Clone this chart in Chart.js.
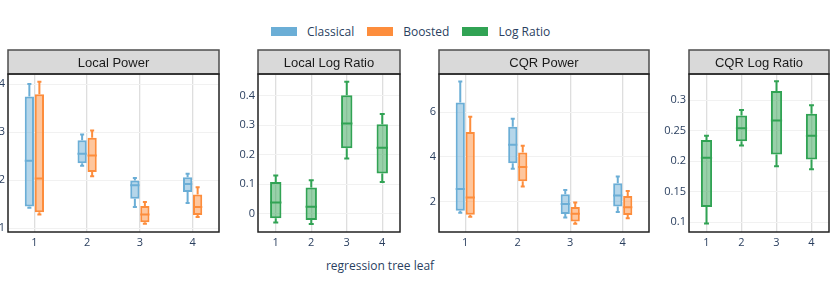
<!DOCTYPE html>
<html>
<head>
<meta charset="utf-8">
<script src="https://cdn.jsdelivr.net/npm/chart.js@4.4.1/dist/chart.umd.min.js"></script>
<style>
  html, body { margin: 0; padding: 0; background: #fff; }
  body { width: 830px; height: 291px; position: relative; overflow: hidden; font-family: "Open Sans", "DejaVu Sans", sans-serif; }
  canvas { position: absolute; }
  .legend { position: absolute; top: 23px; left: 271px; display: flex; align-items: center; color: #2a3f5f; font-size: 12px; }
  .legend .item { display: flex; align-items: center; margin-right: 13px; }
  .legend .sw { width: 26px; height: 9px; margin-right: 10px; }
  .xtitle { position: absolute; top: 257px; left: 280px; width: 200px; text-align: center; color: #2a3f5f; font-size: 12px; }
</style>
</head>
<body>
<div class="legend">
  <div class="item"><span class="sw" style="background:#6baed6"></span><span>Classical</span></div>
  <div class="item"><span class="sw" style="background:#fd8d3c"></span><span>Boosted</span></div>
  <div class="item"><span class="sw" style="background:#31a354"></span><span>Log Ratio</span></div>
</div>
<div class="xtitle">regression tree leaf</div>
<canvas id="p1" width="222" height="210" style="left:0px;top:48px"></canvas>
<canvas id="p2" width="175" height="210" style="left:228px;top:48px"></canvas>
<canvas id="p3" width="222" height="210" style="left:430px;top:48px"></canvas>
<canvas id="p4" width="175" height="210" style="left:655px;top:48px"></canvas>
<script>
// ---- data: each box is [lower whisker, Q1, median, Q3, upper whisker] ----
const leaves = ['1', '2', '3', '4'];

const localPowerClassical = [[1.42, 1.45, 2.40, 3.74, 4.00], [2.30, 2.35, 2.55, 2.83, 2.95], [1.44, 1.61, 1.89, 1.99, 2.04], [1.52, 1.75, 1.92, 2.06, 2.13]];
const localPowerBoosted   = [[1.28, 1.33, 2.03, 3.79, 4.05], [2.08, 2.17, 2.51, 2.88, 3.03], [1.09, 1.12, 1.28, 1.46, 1.54], [1.23, 1.27, 1.44, 1.70, 1.85]];
const localLogRatio       = [[-0.031, -0.016, 0.037, 0.107, 0.129], [-0.036, -0.022, 0.023, 0.088, 0.113], [0.187, 0.222, 0.306, 0.402, 0.448], [0.107, 0.136, 0.223, 0.303, 0.338]];
const cqrPowerClassical   = [[1.51, 1.60, 2.57, 6.43, 7.37], [3.47, 3.72, 4.54, 5.35, 5.70], [1.29, 1.45, 1.90, 2.33, 2.52], [1.54, 1.78, 2.28, 2.82, 3.12]];
const cqrPowerBoosted     = [[1.33, 1.42, 2.19, 5.11, 5.79], [2.68, 2.91, 3.55, 4.20, 4.50], [1.02, 1.12, 1.46, 1.76, 1.96], [1.26, 1.41, 1.75, 2.25, 2.48]];
const cqrLogRatio         = [[0.098, 0.125, 0.206, 0.235, 0.242], [0.226, 0.233, 0.254, 0.275, 0.284], [0.192, 0.211, 0.267, 0.315, 0.331], [0.187, 0.203, 0.242, 0.278, 0.292]];

const localPowerTicks = [1, 2, 3, 4];
const localLogRatioTicks = [0, 0.1, 0.2, 0.3, 0.4];
const cqrPowerTicks = [2, 4, 6];
const cqrLogRatioTicks = [0.1, 0.15, 0.2, 0.25, 0.3];

const localPowerRange = [0.917, 4.21];
const localLogRatioRange = [-0.063, 0.474];
const cqrPowerRange = [0.647, 7.70];
const cqrLogRatioRange = [0.0842, 0.343];

const seriesNames = ['Classical', 'Boosted', 'Log Ratio'];
const panelTitles = ['Local Power', 'Local Log Ratio', 'CQR Power', 'CQR Log Ratio'];

// ---- styling ----
const COLORS = {
  'Classical': ['#6baed6', 'rgba(107,174,214,0.5)'],
  'Boosted': ['#fd8d3c', 'rgba(253,141,60,0.5)'],
  'Log Ratio': ['#31a354', 'rgba(49,163,84,0.5)']
};
const TICK_COLOR = '#2a3f5f';
const STRIP_H = 24;

const boxPlugin = {
  id: 'boxWhiskers',
  afterDatasetsDraw(chart) {
    const ctx = chart.ctx, y = chart.scales.y;
    ctx.save();
    chart.data.datasets.forEach((ds, di) => {
      const meta = chart.getDatasetMeta(di);
      meta.data.forEach((bar, i) => {
        const s = ds.stats[i];
        const x = bar.x, w = bar.width;
        ctx.strokeStyle = ds.borderColor;
        ctx.lineWidth = 2;
        ctx.beginPath();
        // median
        ctx.moveTo(x - w / 2, y.getPixelForValue(s[2]));
        ctx.lineTo(x + w / 2, y.getPixelForValue(s[2]));
        // whiskers
        ctx.moveTo(x, y.getPixelForValue(s[1]));
        ctx.lineTo(x, y.getPixelForValue(s[0]));
        ctx.moveTo(x, y.getPixelForValue(s[3]));
        ctx.lineTo(x, y.getPixelForValue(s[4]));
        // caps
        const cw = w * 0.22;
        ctx.moveTo(x - cw, y.getPixelForValue(s[0]));
        ctx.lineTo(x + cw, y.getPixelForValue(s[0]));
        ctx.moveTo(x - cw, y.getPixelForValue(s[4]));
        ctx.lineTo(x + cw, y.getPixelForValue(s[4]));
        ctx.stroke();
      });
    });
    ctx.restore();
  }
};

const stripPlugin = {
  id: 'strip',
  afterDraw(chart, args, opts) {
    const ctx = chart.ctx, a = chart.chartArea;
    ctx.save();
    ctx.fillStyle = '#d9d9d9';
    ctx.fillRect(a.left, a.top - STRIP_H, a.right - a.left, STRIP_H);
    ctx.strokeStyle = '#4d4d4d';
    ctx.lineWidth = 1.5;
    ctx.strokeRect(a.left, a.top - STRIP_H, a.right - a.left, STRIP_H);
    ctx.strokeStyle = '#222';
    ctx.strokeRect(a.left, a.top, a.right - a.left, a.bottom - a.top);
    ctx.fillStyle = '#1a1a1a';
    ctx.font = '13px "Liberation Sans", Arial, sans-serif';
    ctx.textAlign = 'center';
    ctx.textBaseline = 'middle';
    ctx.fillText(opts.text, (a.left + a.right) / 2, a.top - STRIP_H / 2 + 1);
    ctx.restore();
  }
};

function makeDataset(name, boxes, catPct, barPct) {
  return {
    label: name,
    data: boxes.map(b => [b[1], b[3]]),
    stats: boxes,
    backgroundColor: COLORS[name][1],
    borderColor: COLORS[name][0],
    borderWidth: 2,
    borderSkipped: false,
    categoryPercentage: catPct,
    barPercentage: barPct
  };
}

function makePanel(id, title, datasets, tickValues, range, yAxisW, padRight) {
  new Chart(document.getElementById(id), {
    type: 'bar',
    data: { labels: leaves, datasets },
    options: {
      responsive: false,
      animation: false,
      devicePixelRatio: 1,
      layout: { padding: { top: 26, right: padRight, left: 0, bottom: 0 } },
      plugins: { legend: { display: false }, tooltip: { enabled: false }, strip: { text: title } },
      scales: {
        x: {
          offset: true,
          grid: { offset: false, color: '#dedede', lineWidth: 1.3, drawTicks: false },
          border: { display: false },
          ticks: { color: TICK_COLOR, font: { family: '"Open Sans", sans-serif', size: 11 }, padding: 4, maxRotation: 0 },
          afterFit(s) { s.height = 26; }
        },
        y: {
          min: range[0], max: range[1],
          grid: { color: '#f1f1f1', lineWidth: 1, drawTicks: false },
          border: { display: false },
          ticks: {
            color: TICK_COLOR, font: { family: '"Open Sans", sans-serif', size: 11 }, padding: 3,
            includeBounds: false,
            callback: v => String(Math.round(v * 1000) / 1000)
          },
          afterBuildTicks(s) { s.ticks = tickValues.map(v => ({ value: v })); },
          afterFit(s) { s.width = yAxisW; }
        }
      }
    },
    plugins: [boxPlugin, stripPlugin]
  });
}

makePanel('p1', panelTitles[0], [
  makeDataset(seriesNames[0], localPowerClassical, 0.38, 0.92),
  makeDataset(seriesNames[1], localPowerBoosted, 0.38, 0.92)
], localPowerTicks, localPowerRange, 8, 3);

makePanel('p2', panelTitles[1], [
  makeDataset(seriesNames[2], localLogRatio, 0.32, 1)
], localLogRatioTicks, localLogRatioRange, 30, 3);

makePanel('p3', panelTitles[2], [
  makeDataset(seriesNames[0], cqrPowerClassical, 0.38, 0.92),
  makeDataset(seriesNames[1], cqrPowerBoosted, 0.38, 0.92)
], cqrPowerTicks, cqrPowerRange, 9, 3);

makePanel('p4', panelTitles[3], [
  makeDataset(seriesNames[2], cqrLogRatio, 0.32, 1)
], cqrLogRatioTicks, cqrLogRatioRange, 34, 1);
</script>
</body>
</html>
